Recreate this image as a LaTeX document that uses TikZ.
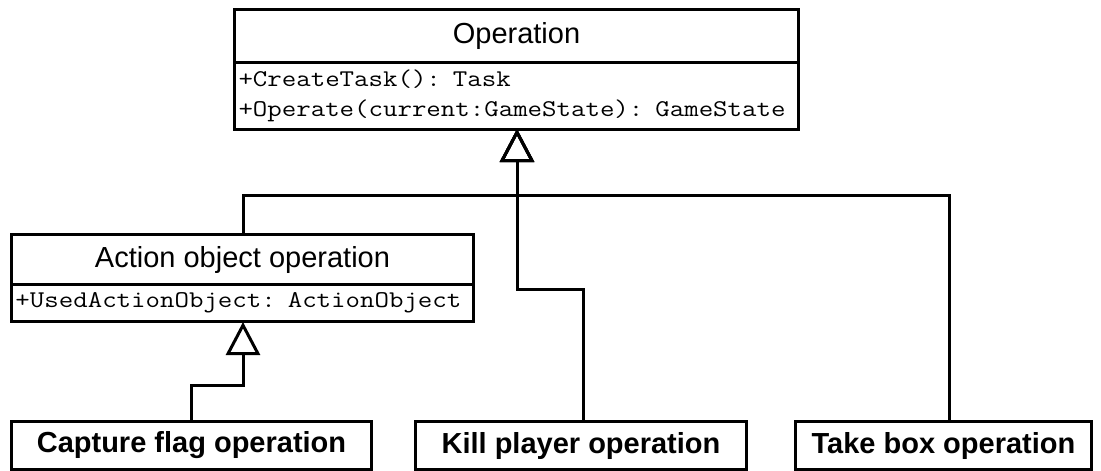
\documentclass[tikz,border=0pt]{standalone}
\usepackage{fontspec}
\setmainfont{Liberation Sans}
\setmonofont{Latin Modern Mono}[FakeStretch=1.17]
\usetikzlibrary{arrows.meta}
\begin{document}
\begin{tikzpicture}[x=1pt,y=-1pt,
  box/.style={draw, line width=3pt, inner sep=0pt, anchor=north west, fill=white},
  titletext/.style={font=\fontsize{29}{34}\selectfont},
  boldtext/.style={font=\fontsize{29}{34}\selectfont\bfseries},
  monotext/.style={font=\fontsize{24}{30}\selectfont\ttfamily, align=left, inner xsep=4pt},
  gen/.style={line width=3pt, -{Triangle[open, length=33pt, width=34pt]}}
]
\useasboundingbox (0,0) rectangle (1101,471);
% Operation
\node[box, titletext, minimum width=564pt, minimum height=53pt] (opt) at (233,8) {Operation};
\node[box, monotext, minimum width=564pt, minimum height=67pt, text width=556pt] (opb) at (233,61)
  {+CreateTask(): Task\\+Operate(current:GameState): GameState};
% Action object operation
\node[box, titletext, minimum width=462pt, minimum height=50pt] (act) at (10,233) {Action object operation};
\node[box, monotext, minimum width=462pt, minimum height=37pt, text width=454pt] (actb) at (10,283)
  {+UsedActionObject: ActionObject};
% leaves
\node[box, boldtext, minimum width=360pt, minimum height=48pt] (cap) at (10,420) {Capture flag operation};
\node[box, boldtext, minimum width=331pt, minimum height=48pt] (kill) at (414,420) {Kill player operation};
\node[box, boldtext, minimum width=296pt, minimum height=48pt] (take) at (794,420) {Take box operation};
% routing points
\coordinate (optip) at (517,129);
\coordinate (bus) at (517,195);
\coordinate (kbend) at (517,289);
\coordinate (acttip) at (243,322);
\coordinate (cbend) at (243,385);
% connectors
\draw[gen] ([xshift=1pt]act.north) -- ([xshift=1pt]act.north |- bus) -- (bus) -- (optip);
\draw[gen] ([xshift=6pt]take.north) -- ([xshift=6pt]take.north |- bus) -- (bus) -- (optip);
\draw[gen] ([xshift=2pt]kill.north) -- ([xshift=2pt]kill.north |- kbend) -- (kbend) -- (optip);
\draw[gen] (cap.north) -- (cap.north |- cbend) -- (cbend) -- (acttip);
\end{tikzpicture}
\end{document}
